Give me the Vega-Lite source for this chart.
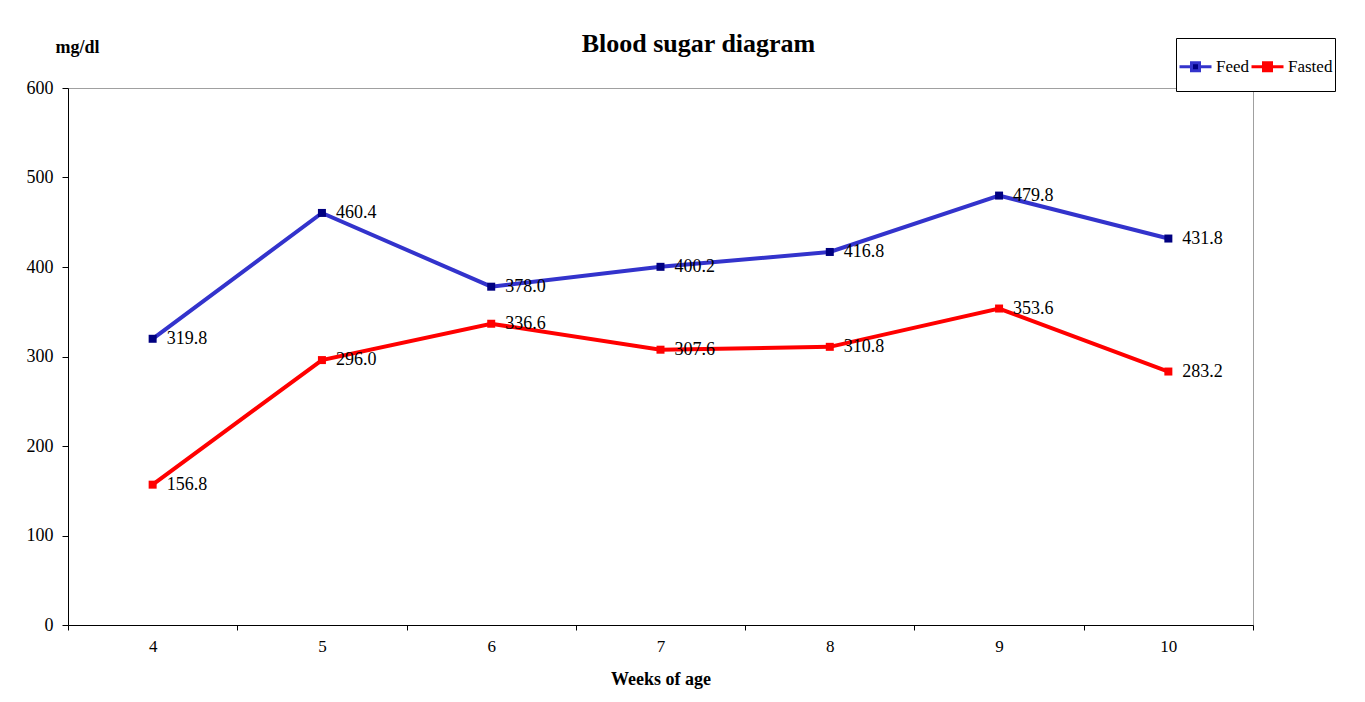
{
  "$schema": "https://vega.github.io/schema/vega-lite/v6.json",
  "width": 1185,
  "height": 537,
  "autosize": {"type": "none"},
  "padding": {"left": 68, "top": 88, "right": 112, "bottom": 77},
  "background": "white",
  "title": {
    "text": "Blood sugar diagram",
    "font": "Liberation Serif, serif",
    "fontSize": 26,
    "fontWeight": "bold",
    "color": "black",
    "anchor": "middle",
    "frame": "group",
    "baseline": "alphabetic",
    "offset": -40,
    "dx": 38
  },
  "config": {
    "view": {"stroke": "#a0a0a0", "strokeWidth": 1},
    "font": "Liberation Serif, serif",
    "axis": {
      "labelFont": "Liberation Serif, serif",
      "titleFont": "Liberation Serif, serif",
      "labelColor": "black",
      "titleColor": "black",
      "domainColor": "black",
      "tickColor": "black",
      "grid": false,
      "labelFontSize": 18
    }
  },
  "data": {
    "values": [
      {"week": "4", "series": "Feed", "value": 319.8},
      {"week": "5", "series": "Feed", "value": 460.4},
      {"week": "6", "series": "Feed", "value": 378.0},
      {"week": "7", "series": "Feed", "value": 400.2},
      {"week": "8", "series": "Feed", "value": 416.8},
      {"week": "9", "series": "Feed", "value": 479.8},
      {"week": "10", "series": "Feed", "value": 431.8},
      {"week": "4", "series": "Fasted", "value": 156.8},
      {"week": "5", "series": "Fasted", "value": 296.0},
      {"week": "6", "series": "Fasted", "value": 336.6},
      {"week": "7", "series": "Fasted", "value": 307.6},
      {"week": "8", "series": "Fasted", "value": 310.8},
      {"week": "9", "series": "Fasted", "value": 353.6},
      {"week": "10", "series": "Fasted", "value": 283.2}
    ]
  },
  "encoding": {
    "x": {
      "field": "week",
      "type": "ordinal",
      "sort": ["4", "5", "6", "7", "8", "9", "10"],
      "scale": {"paddingInner": 0, "paddingOuter": 0},
      "axis": {
        "title": "Weeks of age",
        "titleFontSize": 18,
        "titleFontWeight": "bold",
        "titlePadding": 16,
        "labelAngle": 0,
        "labelFontSize": 17,
        "tickBand": "extent",
        "tickSize": 5,
        "labelPadding": 8
      }
    },
    "y": {
      "field": "value",
      "type": "quantitative",
      "scale": {"domain": [0, 600], "nice": false},
      "axis": {
        "values": [0, 100, 200, 300, 400, 500, 600],
        "title": "mg/dl",
        "titleFontSize": 18,
        "titleFontWeight": "bold",
        "titleAngle": 0,
        "titleAlign": "left",
        "titleBaseline": "alphabetic",
        "titleX": -13,
        "titleY": -36,
        "labelFontSize": 18,
        "tickSize": 6,
        "labelPadding": 9
      }
    }
  },
  "layer": [
    {
      "mark": {"type": "line", "strokeWidth": 4},
      "encoding": {
        "color": {
          "field": "series",
          "type": "nominal",
          "sort": ["Feed", "Fasted"],
          "scale": {"domain": ["Feed", "Fasted"], "range": ["#3333CC", "#FF0000"]},
          "legend": {
            "title": null,
            "orient": "none",
            "legendX": 1108,
            "legendY": -50,
            "direction": "horizontal",
            "strokeColor": "black",
            "fillColor": "white",
            "padding": 2,
            "labelFont": "Liberation Serif, serif",
            "labelFontSize": 17,
            "labelColor": "black",
            "labelOffset": -15,
            "columnPadding": -7,
            "symbolType": "M-1,0H-0.52M-0.2,0H0.28M-0.52,-0.16H-0.2V0.16H-0.52ZM-0.36,0.64L-0.36,0.64",
            "symbolSize": 2500,
            "symbolStrokeWidth": 3,
            "encode": {
              "symbols": {
                "update": {
                  "fill": {"signal": "datum.value == 'Feed' ? '#000080' : '#FF0000'"},
                  "fillOpacity": {"value": 1}
                }
              }
            }
          }
        }
      }
    },
    {
      "mark": {"type": "point", "shape": "square", "filled": true, "size": 64, "opacity": 1},
      "encoding": {
        "fill": {
          "field": "series",
          "type": "nominal",
          "scale": {"domain": ["Feed", "Fasted"], "range": ["#000080", "#FF0000"]},
          "legend": null
        }
      }
    },
    {
      "mark": {"type": "text", "align": "left", "baseline": "middle", "dx": 14, "dy": 0, "font": "Liberation Serif, serif", "fontSize": 18, "color": "black"},
      "encoding": {
        "text": {"field": "value", "type": "quantitative", "format": ".1f"}
      }
    }
  ]
}
